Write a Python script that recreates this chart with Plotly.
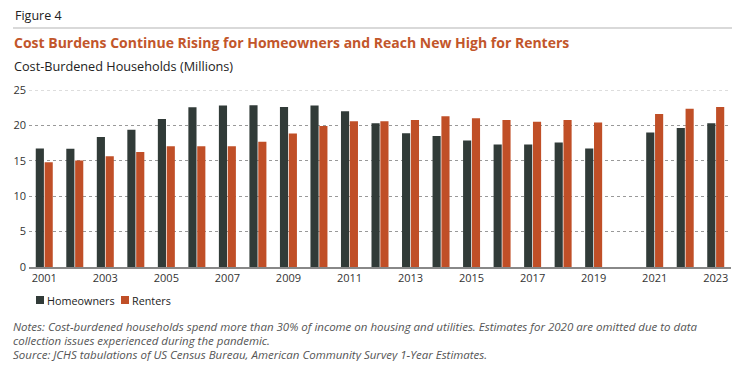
import plotly.graph_objects as go

years = [str(y) for y in range(2001, 2024)]
homeowners = [16.75, 16.7, 18.35, 19.4, 20.9, 22.55, 22.8, 22.85, 22.6, 22.8, 22.0, 20.3,
              18.9, 18.5, 17.85, 17.3, 17.3, 17.6, 16.75, None, 19.0, 19.65, 20.3]
renters = [14.8, 15.05, 15.65, 16.25, 17.05, 17.05, 17.05, 17.7, 18.85, 19.9, 20.6, 20.6,
           20.75, 21.3, 21.0, 20.75, 20.5, 20.75, 20.4, None, 21.6, 22.35, 22.6]
tick_years = [str(y) for y in range(2001, 2024, 2)]
y_ticks = [0, 5, 10, 15, 20, 25]
series_names = ["Homeowners", "Renters"]
series_colors = ["#313b38", "#c04f27"]
note_lines = [
    "Notes: Cost-burdened households spend more than 30% of income on housing and utilities. "
    "Estimates for 2020 are omitted due to data",
    "collection issues experienced during the pandemic.",
    "Source: JCHS tabulations of US Census Bureau, American Community Survey 1-Year Estimates.",
]

# page body has an 8px margin; lay out in screen coordinates and shift
OFF = 8
W, H = 751 - 2 * OFF, 369 - 2 * OFF
L, R, T, B = 29, 731, 90, 267   # plot area in screen pixels
FONT = "Open Sans"

def px(x):
    return (x - L) / (R - L)

def py(y):
    return (B - y) / (B - T)

fig = go.Figure()
for name, vals, col in zip(series_names, [homeowners, renters], series_colors):
    fig.add_trace(go.Bar(x=years, y=vals, name=name, marker_color=col,
                         marker_line_width=0, showlegend=False))

annotations = [
    dict(text="Figure 4", x=px(13), y=py(15), xanchor="left", yanchor="middle",
         font=dict(size=12.5, color="#222222", family=FONT)),
    dict(text="<b>Cost Burdens Continue Rising for Homeowners and Reach New High for Renters</b>",
         x=px(12), y=py(43), xanchor="left", yanchor="middle",
         font=dict(size=14, color="#c2562b", family=FONT)),
    dict(text="Cost-Burdened Households (Millions)", x=px(12), y=py(66), xanchor="left",
         yanchor="middle", font=dict(size=12.7, color="#222222", family=FONT)),
]
for line, ly in zip(note_lines, [326.5, 340.3, 354]):
    annotations.append(dict(text="<i>" + line + "</i>", x=px(12), y=py(ly), xanchor="left",
                            yanchor="middle", borderpad=0,
                            font=dict(size=11.5, color="#555555", family=FONT)))
# manual legend
leg_x = [36, 121]
for name, col, lx in zip(series_names, series_colors, leg_x):
    annotations.append(dict(text=name, x=px(lx + 9), y=py(300), xanchor="left", yanchor="middle",
                            font=dict(size=10.8, color="#222222", family=FONT)))
for a in annotations:
    a.update(xref="paper", yref="paper", showarrow=False)

shapes = [
    dict(type="line", xref="paper", yref="paper", x0=px(13), x1=px(732), y0=py(28), y1=py(28),
         line=dict(color="#cccccc", width=1.5)),
    dict(type="line", xref="paper", yref="y", x0=0, x1=1, y0=25, y1=25, layer="below",
         line=dict(color="#bbbbbb", width=1, dash="dot")),
]
for col, lx in zip(series_colors, leg_x):
    shapes.append(dict(type="rect", xref="paper", yref="paper", x0=px(lx), x1=px(lx + 8),
                       y0=py(304), y1=py(296), fillcolor=col, line=dict(width=0)))

fig.update_layout(
    width=W, height=H,
    margin=dict(l=L - OFF, r=W - (R - OFF), t=T - OFF, b=H - (B - OFF), autoexpand=False),
    paper_bgcolor="white", plot_bgcolor="white",
    barmode="group", bargap=0.42, bargroupgap=0.08,
    font=dict(family=FONT, size=11, color="#333333"),
    showlegend=False,
    annotations=annotations,
    shapes=shapes,
)
fig.update_xaxes(type="category", tickvals=tick_years, ticktext=tick_years, showgrid=False,
                 showline=True, linecolor="#888888", linewidth=1.5, ticks="",
                 tickfont=dict(size=11, color="#333333"), fixedrange=True)
fig.update_yaxes(range=[0, 25], tickvals=y_ticks, showgrid=True, gridcolor="#999999",
                 griddash="dot", gridwidth=1, zeroline=False, ticks="", ticklabelstandoff=2,
                 tickfont=dict(size=11, color="#333333"), fixedrange=True)

fig.write_html("out.html")
